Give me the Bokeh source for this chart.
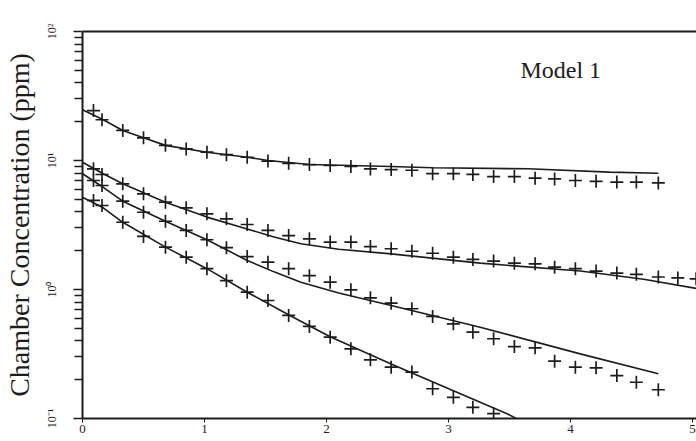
from bokeh.plotting import figure
from bokeh.models import FixedTicker, LinearAxis, Label
from bokeh.embed import file_html
from bokeh.resources import INLINE

# ---- data (time in hours, concentration in ppm) ----
t_obs = [0.09, 0.16, 0.33, 0.50, 0.68, 0.85, 1.02, 1.18, 1.35, 1.52, 1.69, 1.86,
         2.03, 2.20, 2.36, 2.53, 2.70, 2.87, 3.04, 3.20, 3.37, 3.54, 3.71, 3.87,
         4.04, 4.21, 4.38, 4.54, 4.72, 4.88, 5.03]

obs1 = [24.4, 20.7, 17.1, 15.0, 13.1, 12.3, 11.6, 11.1, 10.6, 9.9, 9.5, 9.3,
        9.15, 9.0, 8.6, 8.5, 8.4, 7.9, 7.9, 7.8, 7.5, 7.5, 7.3, 7.2,
        7.0, 6.9, 6.8, 6.8, 6.7]
obs2 = [8.62, 7.79, 6.60, 5.52, 4.75, 4.30, 3.86, 3.53, 3.19, 2.87, 2.62, 2.47,
        2.33, 2.33, 2.15, 2.07, 1.98, 1.91, 1.78, 1.71, 1.66, 1.60, 1.58, 1.49,
        1.45, 1.39, 1.34, 1.31, 1.25, 1.23, 1.21]
obs3 = [7.00, 6.40, 4.84, 3.97, 3.38, 2.87, 2.43, 2.11, 1.80, 1.63, 1.45, 1.28,
        1.14, 0.995, 0.862, 0.783, 0.709, 0.618, 0.542, 0.467, 0.415, 0.361, 0.353, 0.278,
        0.250, 0.247, 0.215, 0.191, 0.167]
obs4 = [4.90, 4.48, 3.32, 2.58, 2.13, 1.78, 1.45, 1.17, 0.953, 0.822, 0.629, 0.517,
        0.427, 0.347, 0.285, 0.250, 0.229, 0.170, 0.146, 0.122, 0.109]

model_t1 = [0, 0.17, 0.33, 0.50, 0.68, 1.02, 1.35, 1.52, 1.86, 2.53, 2.87, 3.65, 4.32, 4.72]
model1 = [24.7, 20.7, 17.1, 15.0, 13.1, 11.6, 10.6, 10.0, 9.3, 8.98, 8.78, 8.62, 8.12, 7.97]
model_t2 = [0, 0.17, 0.33, 0.68, 1.02, 1.35, 1.57, 1.79, 2.10, 2.53, 3.26, 4.08, 4.60, 5.03]
model2 = [9.70, 7.9, 6.6, 4.75, 3.64, 2.95, 2.55, 2.26, 2.05, 1.89, 1.60, 1.39, 1.20, 1.02]
model_t3 = [0, 0.17, 0.33, 0.68, 1.02, 1.35, 1.57, 1.79, 2.10, 2.53, 3.26, 4.08, 4.72]
model3 = [7.89, 6.2, 4.84, 3.38, 2.43, 1.68, 1.37, 1.14, 0.94, 0.751, 0.510, 0.317, 0.222]
model_t4 = [0, 0.17, 0.33, 0.68, 1.02, 1.35, 1.70, 2.03, 2.53, 3.04, 3.48, 3.60]
model4 = [5.19, 4.3, 3.32, 2.13, 1.45, 0.953, 0.629, 0.43, 0.265, 0.164, 0.109, 0.095]

x_ticks = [0, 1, 2, 3, 4, 5]
y_ticks = [0.1, 1, 10, 100]
y_tick_labels = ["10\u207b\u00b9", "10\u2070", "10\u00b9", "10\u00b2"]
y_title = "Chamber Concentration (ppm)"
note = "Model 1"

FONT = "Liberation Serif"
INK = "#1c1c1c"

p = figure(width=696, height=441, x_range=(0, 5.033), y_range=(0.1, 100),
           y_axis_type="log", output_backend="svg", toolbar_location=None,
           min_border_left=82, min_border_right=0, min_border_top=31,
           min_border_bottom=23)
p.outline_line_color = None
p.xgrid.visible = False
p.ygrid.visible = False
p.background_fill_color = "white"
p.border_fill_color = "white"

for mt, mv in [(model_t1, model1), (model_t2, model2), (model_t3, model3), (model_t4, model4)]:
    p.line(mt, mv, line_color=INK, line_width=1.6)

for ov in [obs1, obs2, obs3, obs4]:
    p.scatter(t_obs[:len(ov)], ov, marker="cross", size=13, line_color=INK, line_width=1.7)

# x axis
xa = p.xaxis[0]
xa.ticker = FixedTicker(ticks=x_ticks)
xa.axis_line_width = 2
xa.axis_line_color = INK
xa.major_tick_out = 4
xa.major_tick_in = 0
xa.minor_tick_line_color = None
xa.major_tick_line_color = INK
xa.major_label_standoff = 2
xa.major_label_text_font = FONT
xa.major_label_text_font_size = "13px"
xa.major_label_text_color = INK

# y axis
ya = p.yaxis[0]
minor = [k * d for d in (0.1, 1, 10) for k in range(2, 10)]
ya.ticker = FixedTicker(ticks=y_ticks, minor_ticks=minor)
ya.major_label_overrides = {v: s for v, s in zip(y_ticks, y_tick_labels)}
ya.axis_line_width = 2
ya.axis_line_color = INK
ya.major_tick_out = 9
ya.major_tick_in = 0
ya.minor_tick_out = 8
ya.minor_tick_in = 0
ya.major_tick_line_color = INK
ya.minor_tick_line_color = INK
ya.major_tick_line_width = 1.3
ya.minor_tick_line_width = 1.3
ya.major_label_orientation = "vertical"
ya.major_label_standoff = 15
ya.major_label_text_font = FONT
ya.major_label_text_font_size = "12px"
ya.major_label_text_color = INK
ya.axis_label = y_title
ya.axis_label_text_font = FONT
ya.axis_label_text_font_style = "normal"
ya.axis_label_text_font_size = "28px"
ya.axis_label_text_color = INK
ya.axis_label_standoff = 7

# top border line
top = LinearAxis(ticker=FixedTicker(ticks=[]), axis_line_width=2, axis_line_color=INK,
                 major_label_text_font_size="0px", major_tick_line_color=None,
                 minor_tick_line_color=None, major_label_standoff=0)
p.add_layout(top, "above")

p.add_layout(Label(x=3.59, y=50.7, text=note, text_font=FONT, text_font_size="24px",
                   text_color=INK, text_baseline="alphabetic"))

open("out.html", "w").write(file_html(p, INLINE))
